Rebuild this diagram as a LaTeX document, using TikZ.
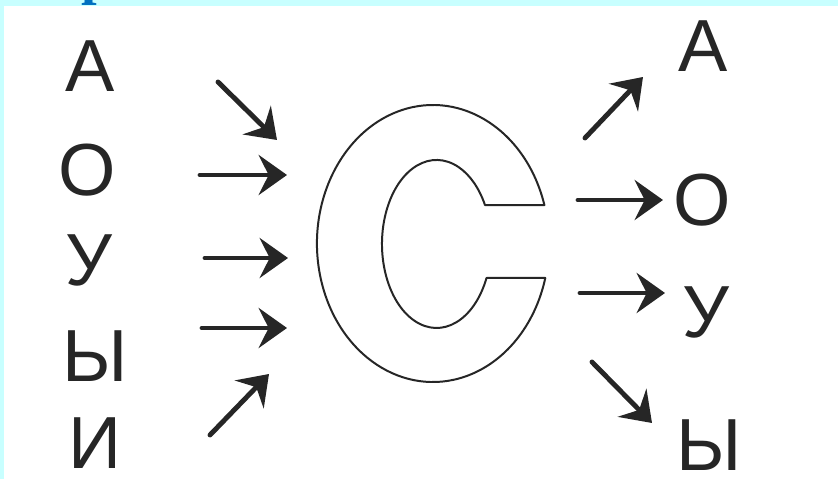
\documentclass[tikz,border=0pt]{standalone}
\usepackage{fontspec}
\setmainfont{Liberation Sans}
\newfontfamily\titlefont{Liberation Serif}
\usetikzlibrary{arrows.meta}
\definecolor{ink}{HTML}{262626}
\definecolor{rahmen}{HTML}{C8FFFF}
\definecolor{titel}{HTML}{0070C0}
\tikzset{
  let/.style={anchor=base,inner sep=0pt,font=\fontsize{63}{63}\selectfont,text=ink},
  pfeil/.style={-{Stealth[length=0.85cm,width=1.2cm,inset=0.3cm]},line width=4.2pt,line cap=round,ink},
  umriss/.style={draw=ink,line width=1.7pt,line join=round}
}

\begin{document}
\begin{tikzpicture}[x=0.03cm,y=0.03cm]
\useasboundingbox (0,0) rectangle (838,479);
% ===== frame =====
\fill[rahmen] (0,0) rectangle (838,479);
\node[anchor=base west,inner sep=0pt,font=\titlefont\bfseries\fontsize{48}{48}\selectfont,text=titel] (titel) at (81,485) {р};
\fill[white] (4,0) rectangle (838,473);
% ===== left column =====
\node[let] (lA) at (90,387) {А};
\node[let] (lO) at (87.5,283.5) {О};
\node[let] (lU) at (88.5,193) {У};
\node[let] (lY) at (95.5,97) {Ы};
\node[let] (lI) at (95,10) {И};
% ===== the letter C =====
\draw[umriss] (544.4,273.9) arc[start angle=16.1,end angle=345.6,x radius=116,y radius=138.5]
  -- (486.5,201) arc[start angle=336.1,end angle=27.6,x radius=54.6,y radius=84] -- cycle;
% ===== right column =====
\node[let] (rA) at (703.5,407) {А};
\node[let] (rO) at (702.5,253) {О};
\node[let] (rU) at (705.5,141) {У};
\node[let] (rY) at (709.5,8) {Ы};
% ===== arrows =====
\foreach \n/\sx/\sy/\ex/\ey in {1/218/397/277/339,2/200/304/287/304,3/205/221/288/221,4/202/151/287/151,5/210/44/269/105}{
  \coordinate (in\n s) at (\sx,\sy);
  \coordinate (in\n e) at (\ex,\ey);
  \draw[pfeil] (in\n s) -- (in\n e);
}
\foreach \n/\sx/\sy/\ex/\ey in {1/585/341/643/402,2/578/279/663/279,3/580/186/665/186,4/592/117/652/56}{
  \coordinate (out\n s) at (\sx,\sy);
  \coordinate (out\n e) at (\ex,\ey);
  \draw[pfeil] (out\n s) -- (out\n e);
}
\end{tikzpicture}
\end{document}
